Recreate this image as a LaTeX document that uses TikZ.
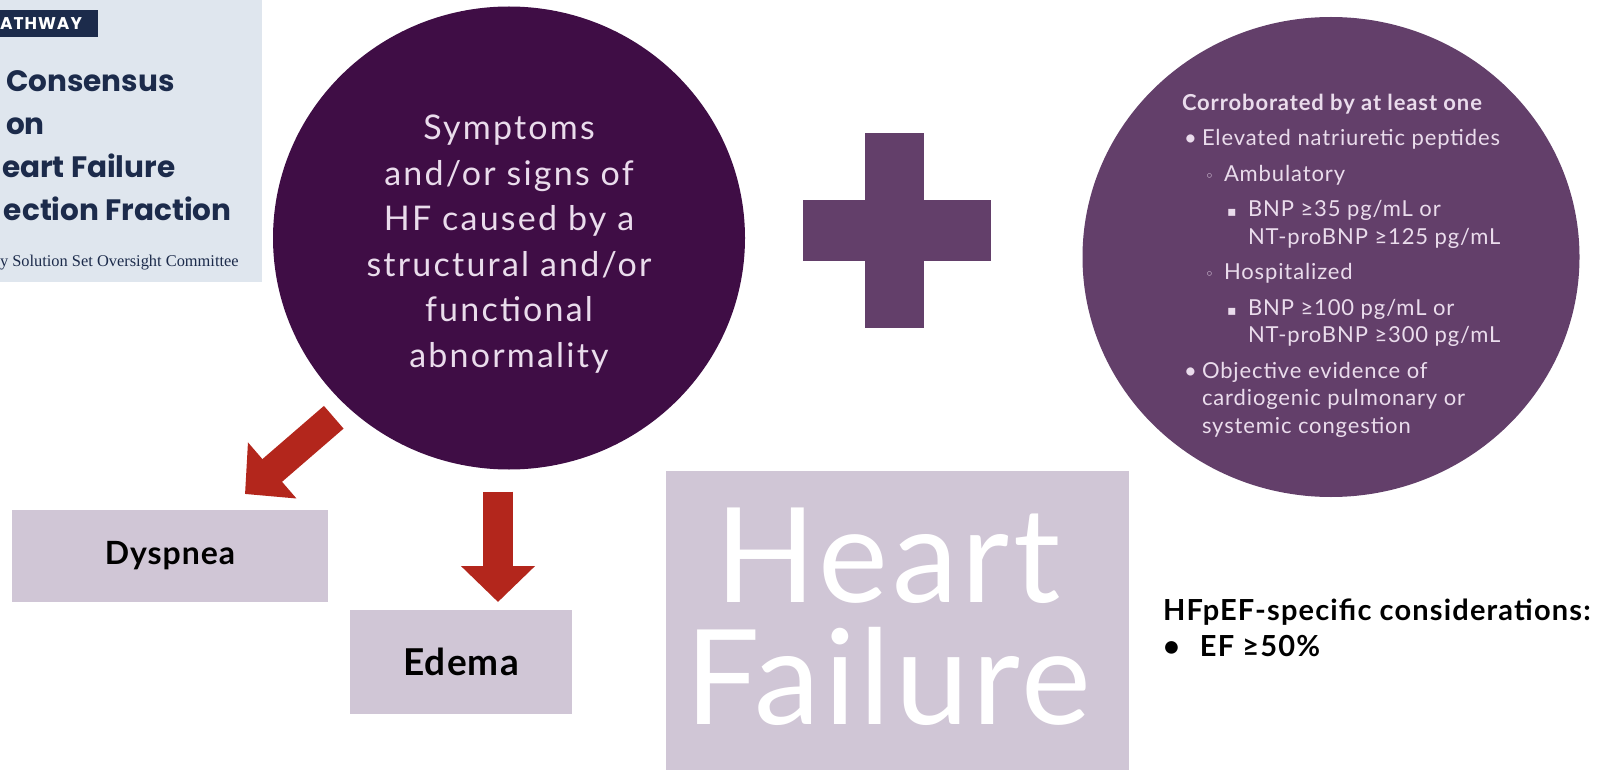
\documentclass[tikz,border=0pt]{standalone}
\usepackage{fontspec}
\setmainfont{Lato}
\newfontfamily\titlefont{Poppins}
\newfontfamily\cmtfont{Liberation Serif}
\newfontfamily\symfont{DejaVu Sans}
\usepackage{xcolor}
\definecolor{HFDark}{HTML}{3F0D45}
\definecolor{CritPurple}{HTML}{633F6A}
\definecolor{FindFill}{HTML}{D0C6D6}
\definecolor{ArrowRed}{HTML}{B3261C}
\definecolor{PanelBlue}{HTML}{DFE6EE}
\definecolor{TitleNavy}{HTML}{1C2B4B}
\definecolor{TextLilac}{HTML}{EADCEC}
\usepackage{tikz}
\usetikzlibrary{shapes.geometric, arrows.meta, positioning, calc}

\begin{document}
\begin{tikzpicture}[
  x=1pt, y=1pt,
  every node/.style={inner sep=0pt, outer sep=0pt},
  hfcircle/.style={
    ellipse, fill=HFDark,
    minimum width=472pt, minimum height=463pt},
  symptext/.style={
    align=center, text=TextLilac,
    font=\fontsize{34}{45.5}\selectfont\addfontfeatures{LetterSpace=6.5}},
  critcircle/.style={
    ellipse, fill=CritPurple,
    minimum width=497pt, minimum height=480pt},
  crittext/.style={
    align=left, text=TextLilac,
    font=\fontsize{22}{27.5}\selectfont\addfontfeatures{LetterSpace=4}},
  finding/.style={
    rectangle, fill=FindFill, text=black,
    font=\bfseries\fontsize{32}{36}\selectfont\addfontfeatures{LetterSpace=3}},
  hfbox/.style={
    rectangle, fill=FindFill,
    minimum width=463pt, minimum height=304pt},
  hftext/.style={
    align=center, text=white,
    font=\fontsize{132}{122}\selectfont\addfontfeatures{LetterSpace=3}},
  bigarr/.style={
    -{Triangle[length=36pt,width=72pt]},
    draw=ArrowRed, line width=30pt},
  banner/.style={
    rectangle, fill=TitleNavy, text=white,
    text width=98pt, align=left, minimum height=27pt,
    font=\titlefont\bfseries\fontsize{17}{18}\selectfont\addfontfeatures{LetterSpace=6}},
  title/.style={
    align=left, text=TitleNavy,
    font=\titlefont\bfseries\fontsize{29.5}{43}\selectfont},
  cmt/.style={text=TitleNavy, font=\cmtfont\fontsize{16.4}{18}\selectfont},
  note/.style={
    align=left, text=black,
    font=\bfseries\fontsize{29}{36}\selectfont\addfontfeatures{LetterSpace=4}},
]

\useasboundingbox (0,0) rectangle (1599,-770);
\fill[white] (0,0) rectangle (1599,-770);

% cut-off cover of the guideline
\fill[PanelBlue] (0,0) rectangle (262,-282);
\node[banner, anchor=north west] (tag) at (0,-10) {ATHWAY};
\node[title, anchor=north west] (ttl) at (0,-71)
  {\hspace*{6pt}Consensus\\ \hspace*{6pt}on\\ \hspace*{2pt}eart Failure\\ \hspace*{4pt}ection Fraction};
\node[cmt, anchor=base west] (cmt) at (0,-267) {y Solution Set Oversight Committee};

% the two criteria
\node[hfcircle] (dark) at (509,-238) {};
\node[symptext] (symp) at ($(dark.center)+(0,-6)$)
  {Symptoms\\ and/or signs of\\ HF caused by a\\ structural and/or\\ functional\\ abnormality};

\fill[CritPurple] (865,-133) rectangle (924,-328);
\fill[CritPurple] (803,-200) rectangle (991,-261);

\node[critcircle] (corr) at (1331,-257) {};
\node[crittext, anchor=north west] (corrtxt) at (1182,-94)
  {{\bfseries Corroborated by at least one}\\[8pt]
   \hspace*{2pt}\makebox[18pt][l]{•}Elevated natriuretic peptides\\[8pt]
   \hspace*{23pt}\makebox[19pt][l]{\symfont\fontsize{15}{15}\selectfont ◦}Ambulatory\\[8pt]
   \hspace*{45pt}\makebox[21pt][l]{\symfont\fontsize{14}{14}\selectfont ▪}BNP ≥35 pg/mL or\\
   \hspace*{66pt}NT-proBNP ≥125 pg/mL\\[8pt]
   \hspace*{23pt}\makebox[19pt][l]{\symfont\fontsize{15}{15}\selectfont ◦}Hospitalized\\[8pt]
   \hspace*{45pt}\makebox[21pt][l]{\symfont\fontsize{14}{14}\selectfont ▪}BNP ≥100 pg/mL or\\
   \hspace*{66pt}NT-proBNP ≥300 pg/mL\\[8pt]
   \hspace*{2pt}\makebox[18pt][l]{•}Objective evidence of\\
   \hspace*{20pt}cardiogenic pulmonary or\\
   \hspace*{20pt}systemic congestion};

% findings
\node[finding, minimum width=316pt, minimum height=92pt] (dysp) at (170,-556) {Dyspnea};
\node[finding, minimum width=222pt, minimum height=104pt,
      font=\bfseries\fontsize{37}{40}\selectfont\addfontfeatures{LetterSpace=3}] (edema) at (461,-662) {Edema};

\node[hfbox] (hf) at (897.5,-623) {};
\node[hftext] (hftxt) at ($(hf.center)+(-9,6)$) {Heart\\Failure};

\node[note, anchor=north west] (hfpef) at (1163,-599)
  {HFpEF-specific considerations:\\ \makebox[37pt][l]{•}EF ≥50\%};

\draw[bigarr] ($(dark.225)+(-10,-14)$) -- ($(dysp.north)+(75,16)$);
\draw[bigarr] ($(dark.south)+(-11,-22)$) -- ($(edema.north -| dark.south)+(-11,8)$);

\end{tikzpicture}
\end{document}
